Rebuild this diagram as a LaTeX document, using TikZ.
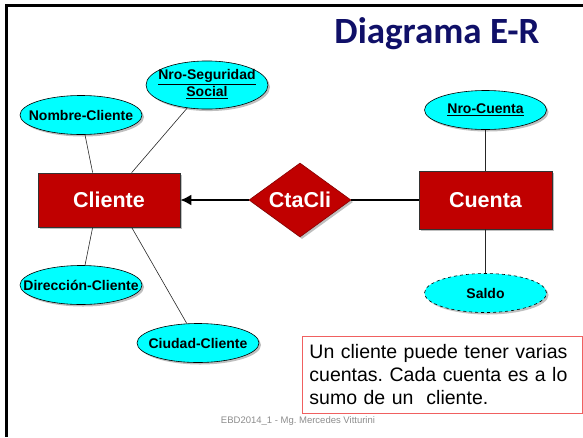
\documentclass[tikz,border=0pt]{standalone}
\usepackage{fontspec}
\setmainfont{Liberation Sans}
\newfontfamily\titlefont{Carlito}
\usetikzlibrary{shapes.geometric,shadows,arrows.meta,calc}
\definecolor{erred}{RGB}{192,0,0}
\definecolor{attrcyan}{RGB}{0,255,255}
\definecolor{titleblue}{RGB}{16,16,104}
\definecolor{boxred}{RGB}{240,96,96}
\definecolor{footgray}{RGB}{140,140,140}
\newcommand{\zw}[1]{\makebox[0pt]{#1}}
\frenchspacing
\begin{document}
\begin{tikzpicture}[x=1pt,y=-1pt,
  shade/.style={drop shadow={shadow xshift=2pt,shadow yshift=-2pt,opacity=0.25,fill=black}},
  entity/.style={rectangle, draw=black!80, line width=0.7pt, fill=erred, text=white,
    font=\bfseries\fontsize{21.5}{24}\selectfont, inner sep=0pt, shade},
  attr/.style={ellipse, draw=black, line width=0.6pt, fill=attrcyan,
    font=\bfseries\fontsize{14}{17}\selectfont, minimum width=122pt, minimum height=39pt,
    inner sep=0pt, shade},
  relship/.style={diamond, draw=erred!70!black, line width=0.6pt, fill=erred, text=white,
    font=\bfseries\fontsize{21.5}{24}\selectfont, minimum width=102pt, minimum height=74pt,
    inner sep=0pt, shade},
  link/.style={draw=black!85, line width=0.6pt},
  rel/.style={draw=black, line width=1.8pt},
  frameline/.style={draw=black, line width=3pt}]
\useasboundingbox (0,0) rectangle (583,437);
% frame
\draw[frameline] (583,5) -- (6,5) -- (6,437);
% title
\node[anchor=base, text=titleblue, font=\titlefont\bfseries\fontsize{37}{40}\selectfont] (title) at (437,43) {Diagrama E-R};
% entities
\node[entity, minimum width=142pt, minimum height=54pt] (cliente) at (109,200) {Cliente};
\node[entity, minimum width=133pt, minimum height=58pt] (cuenta) at (485.5,200) {Cuenta};
\node[relship] (ctacli) at (300,200) {\zw{CtaCli}};
% attributes
\node[attr] (nombre) at (81,115) {\zw{Nombre-Cliente}};
\node[attr, minimum height=48pt] (nroseg) at (207,85) {\zw{\begin{tabular}{@{}c@{}}\underline{Nro-Seguridad}\\\underline{Social}\end{tabular}}};
\node[attr] (direccion) at (81,285) {\zw{Dirección-Cliente}};
\node[attr] (ciudad) at (198,343) {\zw{Ciudad-Cliente}};
\node[attr] (nrocuenta) at (485.5,110) {\zw{\underline{Nro-Cuenta}}};
\node[attr, dashed] (saldo) at (485.5,293) {\zw{Saldo}};
% connectors
\draw[link] (nombre) -- ([xshift=55pt]cliente.north west);
\draw[link] (nroseg) -- ([xshift=94pt]cliente.north west);
\draw[link] (direccion) -- ([xshift=55pt]cliente.south west);
\draw[link] (ciudad) -- ([xshift=94pt]cliente.south west);
\draw[link] (nrocuenta) -- (cuenta);
\draw[link] (cuenta) -- (saldo);
\draw[rel, -{Latex[length=11pt,width=11pt]}] (ctacli.west) -- (cliente.east);
\draw[rel] (ctacli.east) -- (cuenta.west);
% note
\node[draw=boxred, line width=0.9pt, anchor=north west, minimum width=280pt, minimum height=77pt,
  inner xsep=7pt, inner ysep=0pt, text width=266pt, align=left,
  font=\fontsize{19.5}{23}\selectfont] (note) at (302,336)
  {Un cliente puede tener varias\\cuentas. Cada cuenta es a lo\\sumo de un\ \ cliente.};
% footer
\node[text=footgray, font=\fontsize{9.5}{11}\selectfont] (footer) at (298,421) {EBD2014\_1 - Mg. Mercedes Vitturini};
\end{tikzpicture}
\end{document}
